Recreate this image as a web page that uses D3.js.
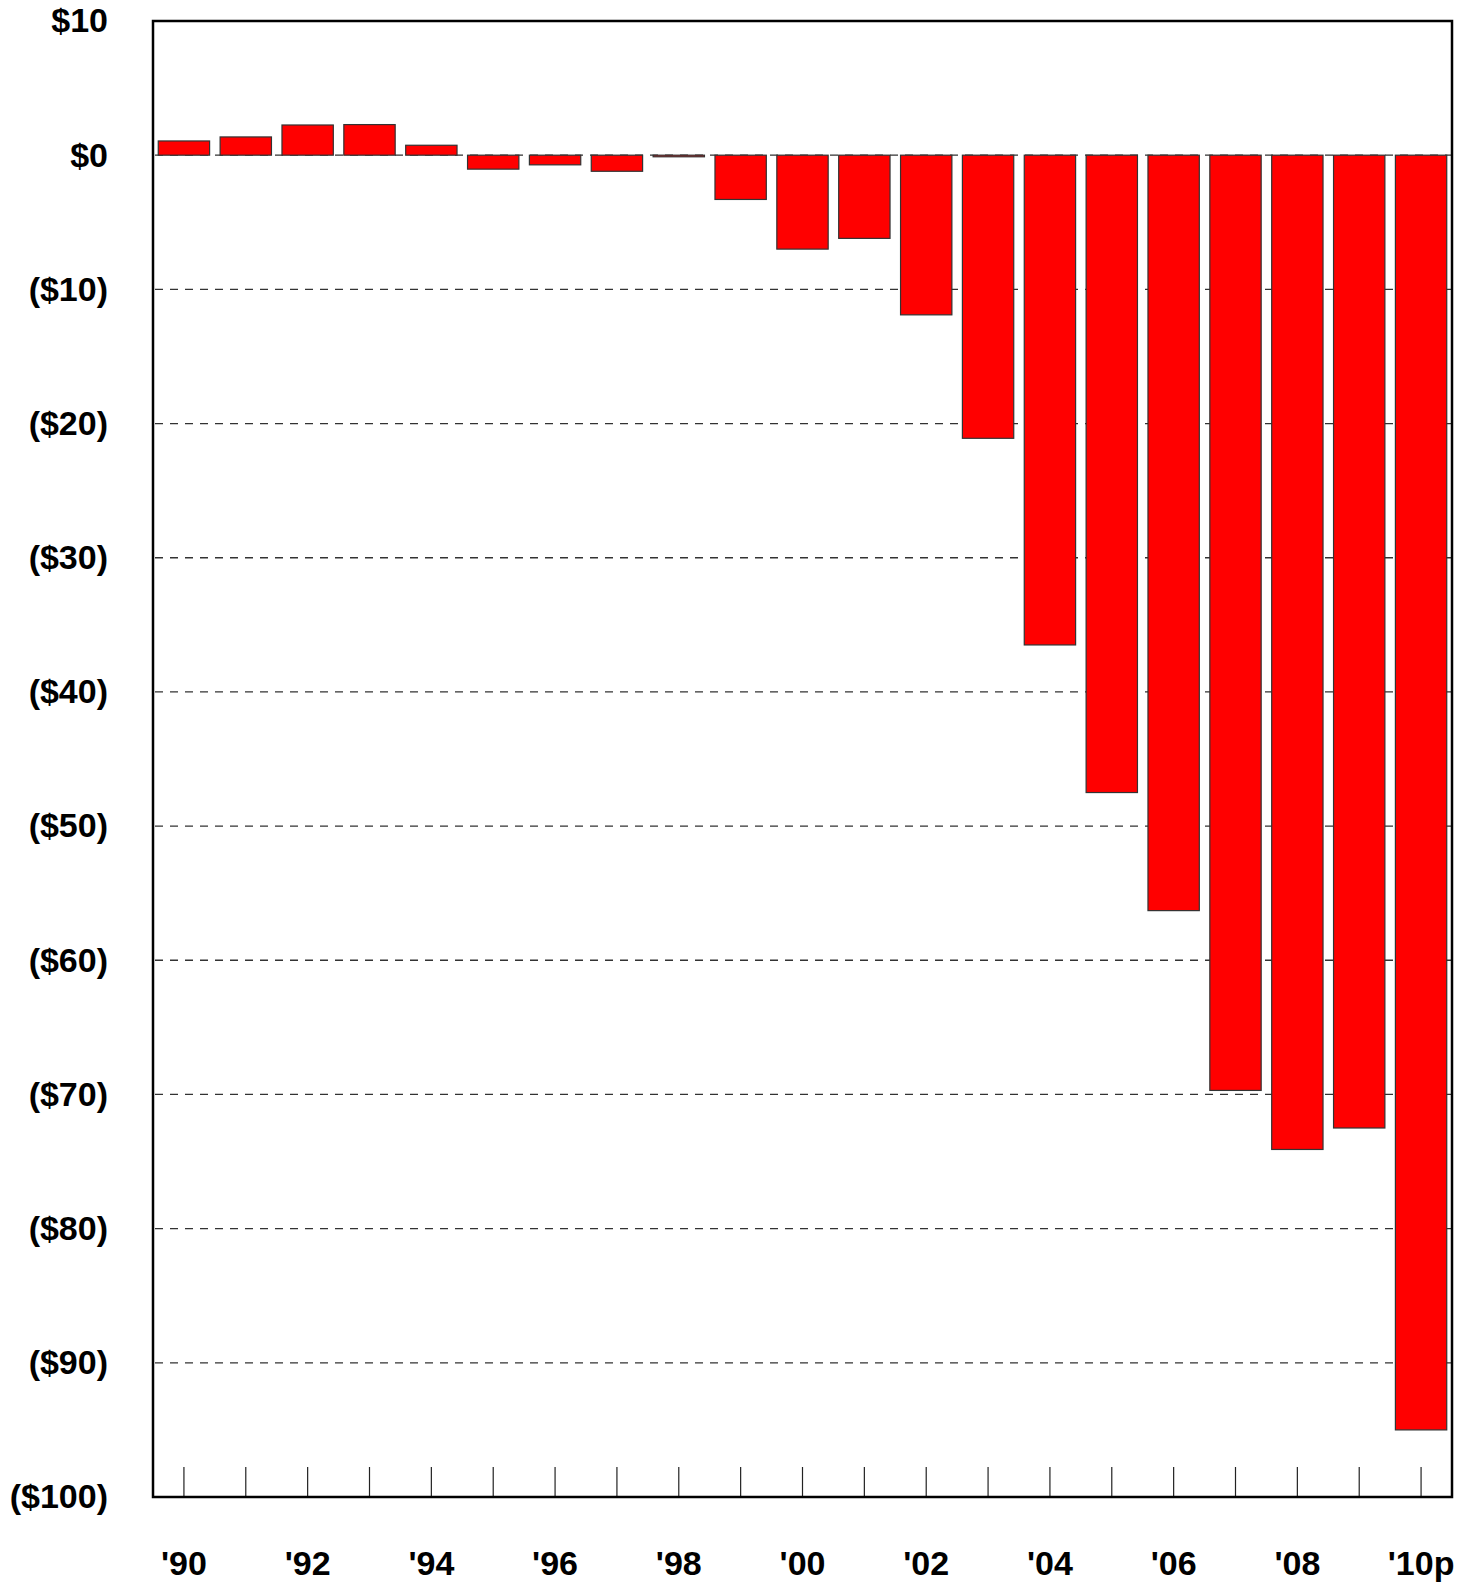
<!DOCTYPE html>
<html>
<head>
<meta charset="utf-8">
<script src="https://cdn.jsdelivr.net/npm/d3@7"></script>
<style>
  body { margin: 0; background: #fff; }
  text { font-family: "Liberation Sans", Arial, sans-serif; font-weight: bold; fill: #000; }
</style>
</head>
<body>
<div id="chart"></div>
<script>
// data (billions, negative = deficit)
var years = ["1990","1991","1992","1993","1994","1995","1996","1997","1998","1999","2000",
             "2001","2002","2003","2004","2005","2006","2007","2008","2009","2010"];
var yearLabels = ["'90","","'92","","'94","","'96","","'98","","'00",
                  "","'02","","'04","","'06","","'08","","'10p"];
var values = [1.06, 1.36, 2.25, 2.28, 0.74, -1.04, -0.72, -1.2, -0.12, -3.3, -7.0,
              -6.2, -11.9, -21.1, -36.5, -47.5, -56.3, -69.7, -74.1, -72.5, -95.0];
var yTicks = [10, 0, -10, -20, -30, -40, -50, -60, -70, -80, -90, -100];

var svgWidth = 1472;
var svgHeight = 1583;

var margin = {
  top: 21,
  right: 20,
  bottom: 86,
  left: 153
};

var width = svgWidth - margin.left - margin.right;
var height = svgHeight - margin.top - margin.bottom;

var svg = d3.select("#chart")
  .append("svg")
  .attr("width", svgWidth)
  .attr("height", svgHeight);

var chartGroup = svg.append("g")
  .attr("transform", `translate(${margin.left}, ${margin.top})`);

// scales
var xScale = d3.scaleBand()
  .domain(years)
  .range([0, width])
  .paddingInner(0.17)
  .paddingOuter(0.085);

var yScale = d3.scaleLinear()
  .domain([-100, 10])
  .range([height, 0]);

// dashed grid lines (zero included)
chartGroup.selectAll(".grid")
  .data(yTicks.filter(d => d < 10 && d > -100))
  .enter()
  .append("line")
  .attr("x1", 2)
  .attr("x2", width)
  .attr("y1", d => yScale(d))
  .attr("y2", d => yScale(d))
  .attr("stroke", "#333")
  .attr("stroke-width", 1.3)
  .attr("stroke-dasharray", "8,7");

// bars
chartGroup.selectAll("rect.bar")
  .data(values)
  .enter()
  .append("rect")
  .attr("class", "bar")
  .attr("x", (d, i) => xScale(years[i]))
  .attr("width", xScale.bandwidth())
  .attr("y", d => yScale(Math.max(0, d)))
  .attr("height", d => Math.abs(yScale(d) - yScale(0)))
  .attr("fill", "#ff0000")
  .attr("stroke", "#333")
  .attr("stroke-width", 1.2);

// x axis: ticks pointing up inside the frame, labels every other year
var bottomAxis = d3.axisBottom(xScale)
  .tickSize(-30)
  .tickPadding(54)
  .tickFormat((d, i) => yearLabels[i]);

var xAxis = chartGroup.append("g")
  .attr("transform", `translate(0, ${height})`)
  .call(bottomAxis);
xAxis.select(".domain").remove();
xAxis.selectAll("line").attr("stroke", "#222").attr("stroke-width", 1.2);
xAxis.selectAll("text")
  .style("font-size", "34px")
  .style("font-family", "'Liberation Sans', Arial, sans-serif")
  .style("font-weight", "bold")
  .attr("fill", "#000");

// y axis labels
var leftAxis = d3.axisLeft(yScale)
  .tickValues(yTicks)
  .tickSize(0)
  .tickPadding(45)
  .tickFormat(d => d < 0 ? "($" + (-d) + ")" : "$" + d);

var yAxis = chartGroup.append("g").call(leftAxis);
yAxis.select(".domain").remove();
yAxis.selectAll("text")
  .style("font-size", "34px")
  .style("font-family", "'Liberation Sans', Arial, sans-serif")
  .style("font-weight", "bold")
  .attr("fill", "#000");

// frame
chartGroup.append("rect")
  .attr("x", 0)
  .attr("y", 0)
  .attr("width", width)
  .attr("height", height)
  .attr("fill", "none")
  .attr("stroke", "#000")
  .attr("stroke-width", 2.5);
</script>
</body>
</html>
